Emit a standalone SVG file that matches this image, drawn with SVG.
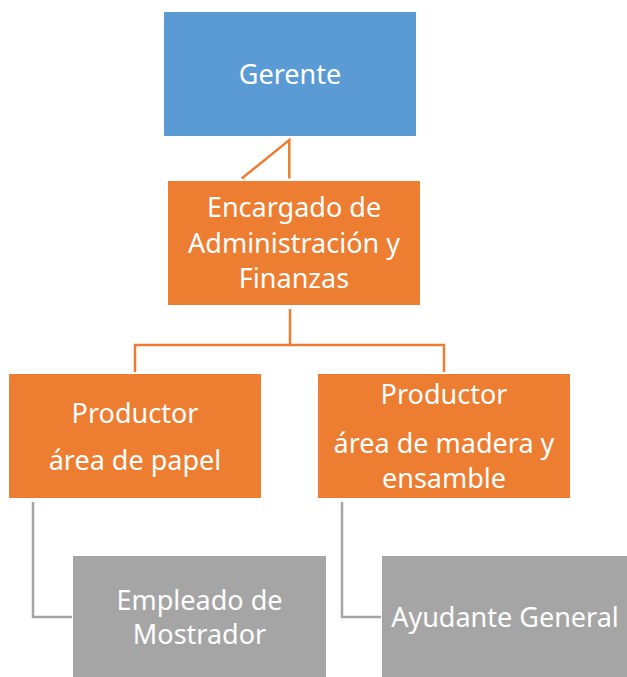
<svg xmlns="http://www.w3.org/2000/svg" width="627" height="677" viewBox="0 0 627 677">
<style>
.t{font-family:"Noto Sans","Open Sans","Liberation Sans",sans-serif;font-size:27px;fill:#fff;text-anchor:middle}
.blue{fill:#5B9BD5}
.orange{fill:#ED7D31}
.gray{fill:#A5A5A5}
.co{fill:none;stroke:#ED7D31;stroke-width:2.5}
.cg{fill:none;stroke:#A5A5A5;stroke-width:2.5}
</style>
<rect width="627" height="677" fill="#fff"/>
<g id="connectors">
<path class="co" d="M241.7,178.5 L289.3,140 L289.3,178.5"/>
<path class="co" d="M290,309 V345 M135,372 V345 H444 V372"/>
<path class="cg" d="M33,502 V617 H72"/>
<path class="cg" d="M342,502 V617 H381"/>
</g>
<g id="gerente">
<rect class="blue" x="164" y="12" width="252" height="124"/>
<text class="t" x="290" y="84">Gerente</text>
</g>
<g id="encargado">
<rect class="orange" x="168" y="181" width="252" height="124"/>
<text class="t" x="294" y="217">Encargado de</text>
<text class="t" x="294" y="252.5">Administración y</text>
<text class="t" x="294" y="288">Finanzas</text>
</g>
<g id="productor-papel">
<rect class="orange" x="9" y="374" width="252" height="124"/>
<text class="t" x="135" y="422.5">Productor</text>
<text class="t" x="135" y="470">área de papel</text>
</g>
<g id="productor-madera">
<rect class="orange" x="318" y="374" width="252" height="124"/>
<text class="t" x="444" y="404">Productor</text>
<text class="t" x="444" y="453">área de madera y</text>
<text class="t" x="444" y="487.5">ensamble</text>
</g>
<g id="empleado">
<rect class="gray" x="73" y="556" width="253" height="124"/>
<text class="t" x="199.5" y="610">Empleado de</text>
<text class="t" x="199.5" y="644">Mostrador</text>
</g>
<g id="ayudante">
<rect class="gray" x="382" y="556" width="253" height="124"/>
<text class="t" x="505" y="627">Ayudante General</text>
</g>
</svg>
